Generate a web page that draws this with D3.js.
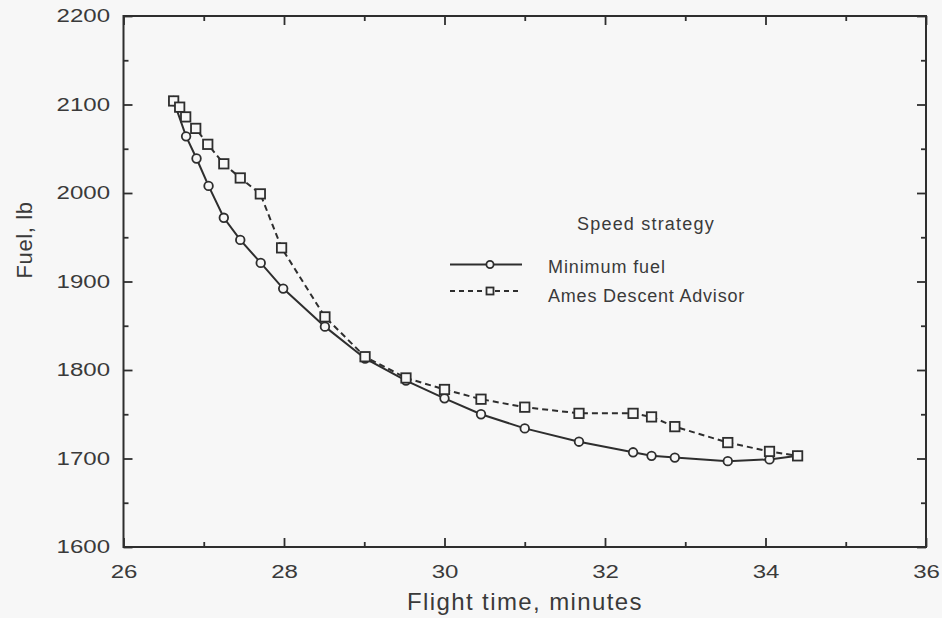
<!DOCTYPE html>
<html><head><meta charset="utf-8">
<script src="https://cdn.jsdelivr.net/npm/d3@7"></script>
<style>
html,body{margin:0;padding:0;background:#f7f7f7;}
svg{display:block;}
text{font-family:"Liberation Sans",Arial,sans-serif;fill:#3a3a3a;}
</style></head>
<body>
<svg id="chart" width="942" height="618"></svg>
<script>
// Minimum fuel speed strategy
const minFuelTime = [26.625, 26.78, 26.91, 27.06, 27.25, 27.455, 27.71, 27.99, 28.51, 29.01, 29.52, 30.0, 30.455, 31.0, 31.676, 32.35, 32.58, 32.87, 33.53, 34.05, 34.4];
const minFuelFuel = [2104, 2064, 2039, 2008, 1972, 1947, 1921, 1892, 1849, 1813, 1788, 1768, 1750, 1734, 1719, 1707, 1703, 1701, 1697, 1699, 1703];
// Ames Descent Advisor speed strategy
const adaTime = [26.625, 26.70, 26.775, 26.9, 27.05, 27.25, 27.455, 27.705, 27.97, 28.51, 29.01, 29.52, 30.0, 30.455, 31.0, 31.676, 32.35, 32.58, 32.87, 33.53, 34.05, 34.4];
const adaFuel = [2104, 2097, 2086, 2073, 2055, 2033, 2017, 1999, 1938, 1860, 1815, 1791, 1778, 1767, 1758, 1751, 1751, 1747, 1736, 1718, 1708, 1703];
// Axis ticks
const xTicks = [26, 28, 30, 32, 34, 36];
const xMinor = [27, 29, 31, 33, 35];
const yTicks = [1600, 1700, 1800, 1900, 2000, 2100, 2200];
const yMinor = [1650, 1750, 1850, 1950, 2050, 2150];
const legendTitle = "Speed strategy";
const seriesNames = ["Minimum fuel", "Ames Descent Advisor"];

const L = 123.5, R = 926, T = 16, B = 547;
const svg = d3.select("#chart");
const x = d3.scaleLinear().domain([26, 36]).range([L, R]);
const y = d3.scaleLinear().domain([1600, 2200]).range([B, T]);
const ink = "#2e2e2e";
const SX = 1.3;

function styleAxis(g) {
  g.select(".domain").remove();
  g.selectAll(".tick line").attr("stroke", ink).attr("stroke-width", 1.8);
}
// bottom axis with labels
const gB = svg.append("g").attr("transform", `translate(0,${B})`)
  .call(d3.axisBottom(x).tickValues(xTicks).tickSize(-9).tickPadding(18).tickFormat(d3.format("d")));
styleAxis(gB);
gB.selectAll("text").attr("font-size", 18.5).attr("fill", "#3a3a3a").attr("transform", `scale(${SX},1)`);
svg.append("g").attr("transform", `translate(0,${B})`)
  .call(d3.axisBottom(x).tickValues(xMinor).tickSize(-5).tickFormat("")).call(styleAxis);
// top axis
svg.append("g").attr("transform", `translate(0,${T})`)
  .call(d3.axisTop(x).tickValues(xTicks).tickSize(-9).tickFormat("")).call(styleAxis);
svg.append("g").attr("transform", `translate(0,${T})`)
  .call(d3.axisTop(x).tickValues(xMinor).tickSize(-5).tickFormat("")).call(styleAxis);
// left axis with labels
const gL = svg.append("g").attr("transform", `translate(${L},0)`)
  .call(d3.axisLeft(y).tickValues(yTicks).tickSize(-9).tickPadding(13.5).tickFormat(d3.format("d")));
styleAxis(gL);
gL.selectAll("text").attr("font-size", 18.5).attr("fill", "#3a3a3a")
  .attr("x", -13.5 / SX).attr("transform", `scale(${SX},1)`);
svg.append("g").attr("transform", `translate(${L},0)`)
  .call(d3.axisLeft(y).tickValues(yMinor).tickSize(-5).tickFormat("")).call(styleAxis);
// right axis
svg.append("g").attr("transform", `translate(${R},0)`)
  .call(d3.axisRight(y).tickValues(yTicks).tickSize(-9).tickFormat("")).call(styleAxis);
svg.append("g").attr("transform", `translate(${R},0)`)
  .call(d3.axisRight(y).tickValues(yMinor).tickSize(-5).tickFormat("")).call(styleAxis);
// frame
svg.append("rect").attr("x", L).attr("y", T).attr("width", R - L).attr("height", B - T)
  .attr("fill", "none").attr("stroke", ink).attr("stroke-width", 2);

// axis titles
svg.append("text").attr("x", 525).attr("y", 610).attr("text-anchor", "middle")
  .attr("font-size", 24).attr("letter-spacing", 1.4).text("Flight time, minutes");
svg.append("text").attr("transform", "translate(32,240) rotate(-90)").attr("text-anchor", "middle")
  .attr("font-size", 22).attr("letter-spacing", 0.6).text("Fuel, lb");

// series
const minData = minFuelTime.map((t, i) => [t, minFuelFuel[i]]);
const adaData = adaTime.map((t, i) => [t, adaFuel[i]]);
const line = d3.line().x(d => x(d[0])).y(d => y(d[1]));

svg.append("path").datum(minData).attr("d", line).attr("fill", "none")
  .attr("stroke", ink).attr("stroke-width", 2);
svg.append("path").datum(adaData).attr("d", line).attr("fill", "none")
  .attr("stroke", ink).attr("stroke-width", 2).attr("stroke-dasharray", "6,4");

svg.append("g").selectAll("circle").data(minData).join("circle")
  .attr("cx", d => x(d[0])).attr("cy", d => y(d[1])).attr("r", 4.3)
  .attr("fill", "#f7f7f7").attr("stroke", ink).attr("stroke-width", 1.8);
svg.append("g").selectAll("rect").data(adaData).join("rect")
  .attr("x", d => x(d[0]) - 4.7).attr("y", d => y(d[1]) - 4.7).attr("width", 9.4).attr("height", 9.4)
  .attr("fill", "#f7f7f7").attr("stroke", ink).attr("stroke-width", 1.8);

// legend
svg.append("text").attr("x", 577).attr("y", 230).attr("font-size", 18).attr("letter-spacing", 1.2).text(legendTitle);
svg.append("line").attr("x1", 450).attr("x2", 522).attr("y1", 264.5).attr("y2", 264.5)
  .attr("stroke", ink).attr("stroke-width", 2);
svg.append("circle").attr("cx", 490).attr("cy", 264.5).attr("r", 3.6)
  .attr("fill", "#f7f7f7").attr("stroke", ink).attr("stroke-width", 1.8);
svg.append("text").attr("x", 548).attr("y", 273).attr("font-size", 18).attr("letter-spacing", 0.9).text(seriesNames[0]);
svg.append("line").attr("x1", 450).attr("x2", 522).attr("y1", 291).attr("y2", 291)
  .attr("stroke", ink).attr("stroke-width", 2).attr("stroke-dasharray", "5,4");
svg.append("rect").attr("x", 486.5).attr("y", 287.5).attr("width", 7).attr("height", 7)
  .attr("fill", "#f7f7f7").attr("stroke", ink).attr("stroke-width", 1.8);
svg.append("text").attr("x", 548).attr("y", 301.5).attr("font-size", 18).attr("letter-spacing", 0.8).text(seriesNames[1]);
</script>
</body></html>
